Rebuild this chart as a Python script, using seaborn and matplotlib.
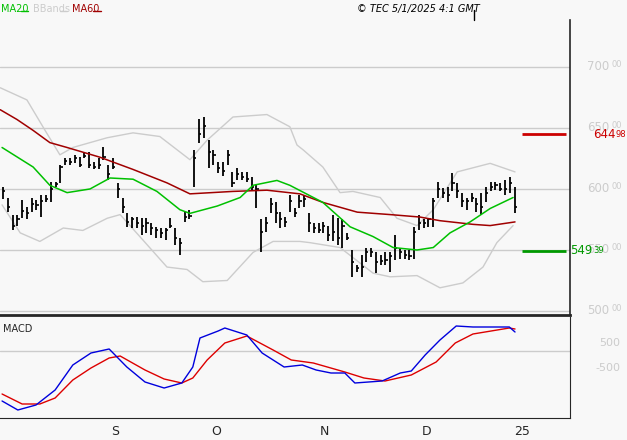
import matplotlib
matplotlib.use("Agg")
import matplotlib.pyplot as plt
import seaborn as sns
import pandas as pd
import numpy as np

sns.set_style("white")
plt.rcParams["font.family"] = "DejaVu Sans"

# daily bars (high, low, close)
highs = [602, 593, 579, 579, 591, 585, 593, 591, 595, 595, 606, 606, 620, 625, 625, 628, 626, 630,
         630, 622, 625, 634, 620, 625, 605, 593, 580, 577, 577, 576, 576, 572, 569, 568, 568, 576,
         568, 560, 581, 583, 632, 657, 659, 640, 632, 622, 622, 632, 614, 617, 614, 614, 610, 603,
         575, 577, 593, 589, 581, 577, 595, 584, 595, 595, 580, 572, 572, 573, 570, 579, 576, 575,
         564, 550, 538, 546, 552, 552, 548, 546, 548, 548, 562, 552, 550, 550, 569, 579, 575, 576,
         593, 606, 601, 602, 613, 605, 597, 593, 597, 593, 597, 602, 606, 606, 605, 607, 610, 602]
lows = [592, 581, 566, 570, 576, 575, 581, 583, 577, 589, 589, 602, 605, 620, 620, 621, 618, 625,
        617, 616, 616, 624, 607, 616, 593, 580, 569, 568, 568, 562, 564, 562, 560, 560, 558, 568,
        554, 546, 573, 575, 602, 638, 642, 617, 620, 613, 611, 620, 602, 607, 607, 606, 598, 584,
        548, 565, 580, 572, 568, 569, 581, 577, 584, 585, 565, 564, 564, 564, 557, 557, 554, 552,
        558, 528, 532, 528, 540, 544, 531, 538, 538, 532, 542, 543, 543, 542, 543, 566, 568, 569,
        569, 593, 593, 589, 598, 593, 585, 583, 589, 581, 579, 589, 598, 599, 598, 595, 597, 580]
closes = [598, 585, 570, 575, 582, 580, 588, 587, 590, 592, 600, 604, 618, 623, 622, 625, 620, 627,
          620, 618, 620, 626, 612, 618, 600, 585, 573, 575, 572, 570, 572, 568, 566, 564, 566, 570,
          560, 556, 577, 578, 625, 645, 652, 630, 628, 617, 615, 628, 605, 612, 610, 608, 602, 600,
          565, 572, 588, 580, 575, 573, 590, 580, 590, 592, 572, 568, 566, 570, 562, 565, 560, 570,
          560, 540, 535, 536, 548, 548, 540, 541, 542, 545, 552, 548, 546, 545, 565, 572, 572, 575,
          590, 600, 597, 595, 605, 598, 590, 590, 593, 588, 585, 597, 602, 603, 600, 600, 605, 585]

ma60_x = [-0.6, 2.9, 6.3, 9.8, 13.4, 20.3, 27.2, 34.3, 39.1, 48.1, 55.2, 62.1, 66.9, 74.1, 81, 87.2,
          91.4, 98.3, 101.9, 107.1]
ma60_y = [665, 657, 648, 638, 634, 626, 616, 605, 596, 598, 599, 596, 589, 581, 579, 577, 574, 571,
          570, 573]
ma20_x = [-0.2, 6.3, 9.8, 13.4, 18.2, 22.4, 27.2, 32.2, 37, 39.1, 44.8, 49.6, 52.3, 57.3, 60, 66.9,
          72.6, 77.4, 81.6, 86.6, 90, 93.5, 97.7, 101.9, 106.7]
ma20_y = [634, 618, 603, 597, 600, 609, 608, 598, 583, 580, 586, 593, 603, 607, 603, 589, 569, 561,
          552, 550, 552, 564, 573, 584, 593]
bbu_x = [-0.6, 5, 8.8, 11.9, 14.6, 21.8, 27.2, 32.8, 39.1, 42.7, 48.1, 55.2, 60, 61.5, 62.8, 66.9,
         70.5, 73.2, 78.9, 82.4, 86.6, 90, 95, 101.9, 107.1]
bbu_y = [683, 673, 648, 628, 634, 642, 646, 643, 624, 640, 659, 661, 651, 636, 632, 618, 597, 598,
         593, 576, 570, 583, 614, 621, 614]
bbl_x = [-0.2, 3.6, 7.7, 12.6, 16.7, 21.8, 24.5, 29.3, 34.3, 38.5, 41.8, 46.9, 52.3, 56.5, 62.1,
         64.2, 70.5, 77.4, 81, 86.6, 91.4, 96.2, 100.4, 103.3, 106.7]
bbl_y = [587, 564, 557, 568, 566, 576, 579, 558, 536, 534, 524, 525, 548, 557, 557, 556, 552, 531,
         528, 529, 519, 523, 536, 556, 570]

macd_x = [-0.2, 3.1, 6.9, 10.9, 14.6, 18.4, 22.2, 25.9, 29.7, 33.7, 37.4, 39.7, 41.2, 45, 46.4, 51,
          54.2, 58.8, 62.6, 65.5, 68.6, 71.5, 73.6, 79.3, 83.1, 85.4, 88.3, 91.4, 94.8, 98.3, 102.1,
          105.9, 107.1]
macd_y = [-1820, -2180, -1980, -1380, -380, 100, 260, -460, -1060, -1300, -1100, -460, 700, 980, 1100,
          820, 100, -460, -380, -580, -700, -700, -1100, -1020, -700, -620, 20, 620, 1180, 1140, 1140,
          1140, 940]
sig_x = [-0.2, 4, 7.7, 10.9, 14.6, 18.4, 22.2, 24.5, 29.7, 33.7, 37.4, 39.7, 42.7, 46.4, 51, 56.5,
         60.3, 64.9, 71.5, 75.5, 79.9, 85.4, 90.6, 94.6, 98.3, 105.9, 107.1]
sig_y = [-1540, -1940, -1940, -1700, -980, -500, -100, -20, -580, -940, -1100, -900, -180, 500, 780,
         220, -180, -300, -660, -900, -1020, -780, -260, 500, 860, 1100, 1060]

month_pos = [22.4, 43.3, 65.9, 87.2, 106.7]
month_labels = ["S", "O", "N", "D", "25"]
price_ticks = [500, 550, 600, 650, 700]
macd_ticks = [500, -500]
level_hi = 644.98
level_lo = 549.39

BG = "#f8f8f8"
GRID = "#cccccc"
fig = plt.figure(figsize=(6.27, 4.4), dpi=100, facecolor=BG)
ax = fig.add_axes([0, 125 / 440, 570 / 627, 295 / 440], facecolor=BG)
ax2 = fig.add_axes([0, 22 / 440, 570 / 627, 101 / 440], facecolor=BG)
xlim = (-0.63, 118.6)

idx = np.arange(len(closes))
for y in price_ticks:
    ax.axhline(y, color=GRID, lw=1, zorder=0)
sns.lineplot(x=bbu_x, y=bbu_y, ax=ax, color=GRID, lw=1)
sns.lineplot(x=bbl_x, y=bbl_y, ax=ax, color=GRID, lw=1)
ax.vlines(idx, lows, highs, color="black", lw=1.3)
ax.hlines(closes, idx, idx + 0.45, color="black", lw=1.2)
sns.lineplot(x=ma60_x, y=ma60_y, ax=ax, color="#a00000", lw=1.1)
sns.lineplot(x=ma20_x, y=ma20_y, ax=ax, color="#00c000", lw=1.1)
ax.hlines(level_hi, 108.6, 117.8, color="#cc0000", lw=2)
ax.hlines(level_lo, 108.6, 117.8, color="#009900", lw=2)
ax.set_xlim(*xlim)
ax.set_ylim(496.7, 738.5)
ax.set_xticks([])
ax.set_yticks([])
for s in ["top", "left"]:
    ax.spines[s].set_visible(False)
ax.spines["bottom"].set_linewidth(2)
ax.spines["right"].set_linewidth(1.2)

ytr = ax.get_yaxis_transform()
for y in price_ticks:
    ax.text(1.03, y, str(y), transform=ytr, color=GRID, fontsize=8.5, va="center", ha="left")
    ax.text(1.073, y + 2, "00", transform=ytr, color=GRID, fontsize=6, va="center", ha="left")
ax.text(1.04, level_hi, "644", transform=ytr, color="#cc0000", fontsize=8.5, va="center", ha="left")
ax.text(1.08, level_hi, "98", transform=ytr, color="#cc0000", fontsize=6, va="center", ha="left")
ax.text(1.0, level_lo, "549", transform=ytr, color="#009900", fontsize=8.5, va="center", ha="left")
ax.text(1.04, level_lo, "39", transform=ytr, color="#009900", fontsize=6, va="center", ha="left")

fig.text(0.002, 0.99, "MA20", color="#00c000", fontsize=7, va="top")
fig.add_artist(plt.Line2D([21 / 627, 28 / 627], [0.976, 0.976], color="#00c000", lw=1))
fig.text(33 / 627, 0.99, "BBands", color=GRID, fontsize=7, va="top")
fig.add_artist(plt.Line2D([60 / 627, 67 / 627], [0.976, 0.976], color=GRID, lw=1))
fig.text(72 / 627, 0.99, "MA60", color="#a00000", fontsize=7, va="top")
fig.add_artist(plt.Line2D([93 / 627, 101 / 627], [0.976, 0.976], color="#a00000", lw=1))
fig.text(480 / 627, 0.99, "© TEC 5/1/2025 4:1 GMT", color="black", fontsize=7,
         va="top", ha="right", style="italic")
fig.add_artist(plt.Line2D([474 / 627, 474 / 627], [0.955, 0.977], color="black", lw=1))

ax2.axhline(180, color=GRID, lw=1, zorder=0)
sns.lineplot(x=sig_x, y=sig_y, ax=ax2, color="#dd0000", lw=1)
sns.lineplot(x=macd_x, y=macd_y, ax=ax2, color="#0000dd", lw=1)
ax2.set_xlim(*xlim)
ax2.set_ylim(-2500, 1540)
ax2.set_yticks([])
ax2.set_xticks(month_pos)
ax2.set_xticklabels([])
ax2.tick_params(axis="x", direction="out", length=14, width=1, color="black")
for s in ["top", "left"]:
    ax2.spines[s].set_visible(False)
for p, lab in zip(month_pos, month_labels):
    ax2.text(p + 0.3, -0.2, lab, transform=ax2.get_xaxis_transform(), fontsize=9,
             va="bottom", ha="left")
ax2.text(0.005, 0.93, "MACD", transform=ax2.transAxes, fontsize=7, va="top")
for v in macd_ticks:
    ax2.text(1.088, v, str(v), transform=ax2.get_yaxis_transform(), color=GRID,
             fontsize=8, va="center", ha="right")

fig.savefig("out.png", dpi=100, facecolor=BG)
